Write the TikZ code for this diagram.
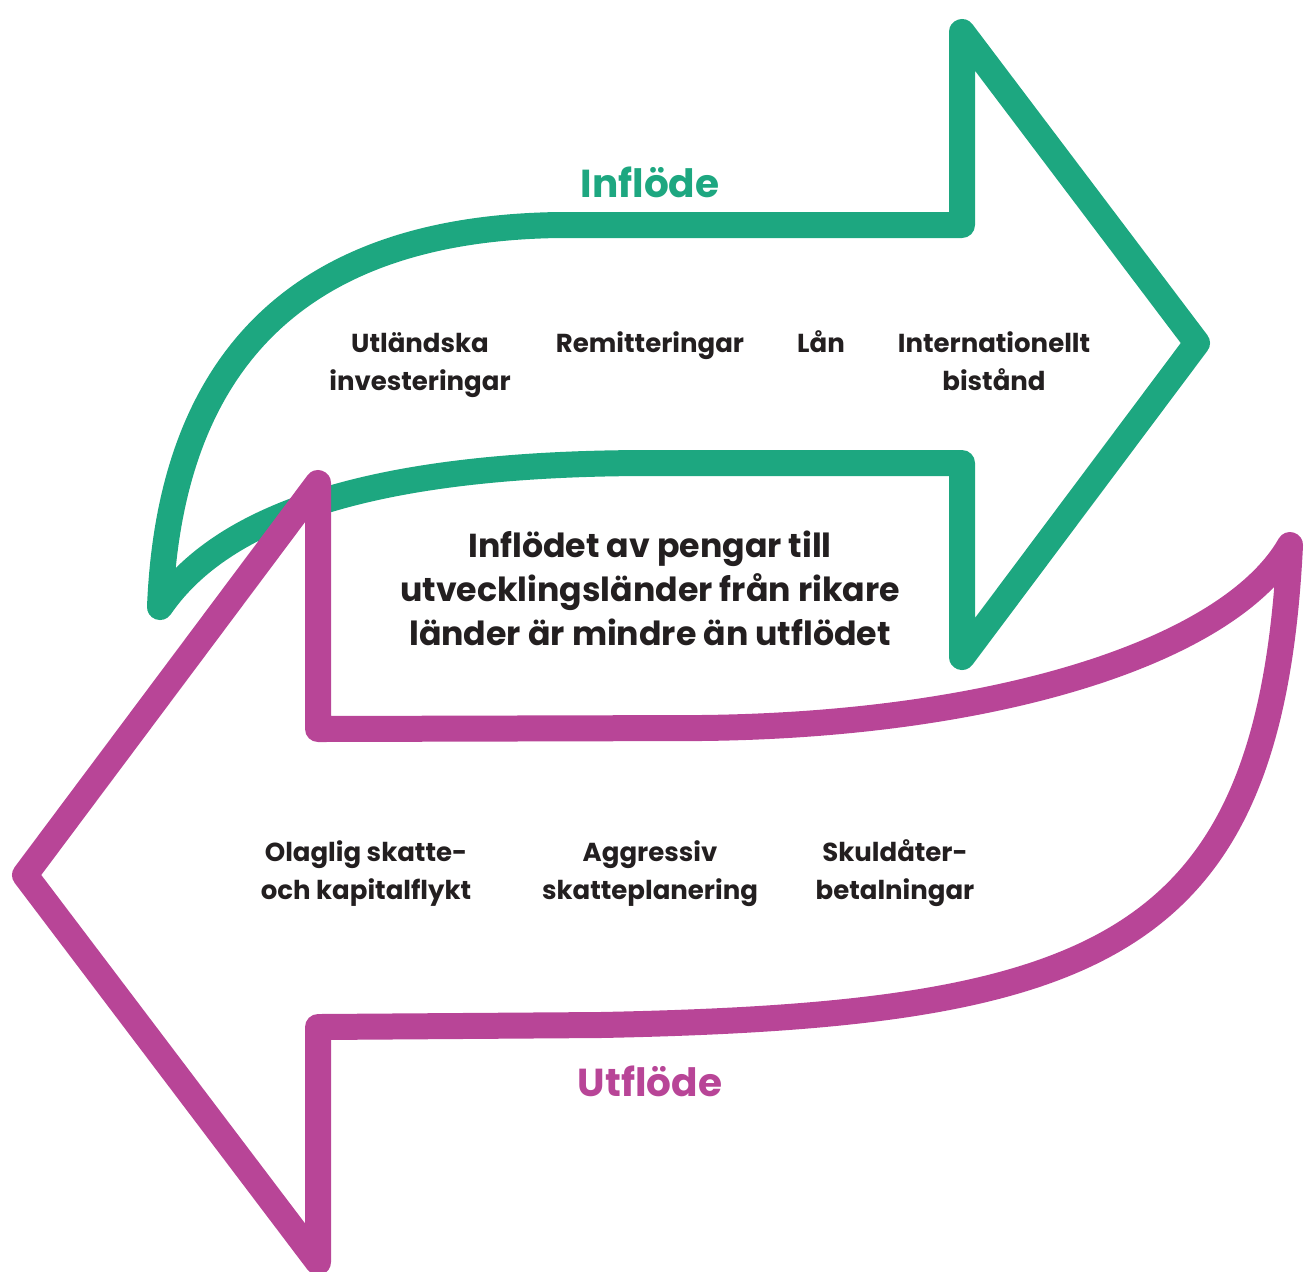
\documentclass[tikz,border=0pt]{standalone}
\usepackage{fontspec}
\setmainfont{Poppins}
\definecolor{infl}{RGB}{29,167,128}
\definecolor{utfl}{RGB}{184,69,151}
\definecolor{txt}{RGB}{35,31,32}
\begin{document}
\begin{tikzpicture}[x=0.5pt,y=-0.5pt,
  band/.style={line width=13pt, line join=round, line cap=round},
  lbl/.style={font=\bfseries\fontsize{13}{19}\selectfont, text=txt, align=center, inner sep=0pt, anchor=base},
  big/.style={font=\bfseries\fontsize{16.6}{22}\selectfont, text=txt, align=center, inner sep=0pt, anchor=base},
  ttl/.style={font=\bfseries\fontsize{19.5}{24}\selectfont, inner sep=0pt, anchor=base}]
\useasboundingbox (0,0) rectangle (1304,1271);
% inflow arrow
\draw[band, infl] (160,607) .. controls (170,360) and (300,228) .. (560,225)
  -- (962,225) -- (962,32) -- (1197,343) -- (962,657) -- (962,463) -- (650,463)
  .. controls (400,463) and (230,505) .. (160,607) -- cycle;
% outflow arrow
\draw[band, utfl] (1290,545) .. controls (1270,950) and (1100,1015) .. (600,1025)
  -- (318,1027) -- (318,1262) -- (25,875) -- (318,483) -- (318,729) -- (700,728)
  .. controls (1000,725) and (1230,650) .. (1290,545) -- cycle;
% titles
\node[ttl, text=infl] (tin) at (650,197) {Inflöde};
\node[ttl, text=utfl] (tut) at (650,1096) {Utflöde};
% inflow labels
\node[lbl] (l1) at (420,390) {Utländska\\investeringar};
\node[lbl] (l2) at (650,352) {Remitteringar};
\node[lbl] (l3) at (821,352) {Lån};
\node[lbl] (l4) at (994,390) {Internationellt\\bistånd};
% centre
\node[big] (c) at (650,645) {Inflödet av pengar till\\utvecklingsländer från rikare\\länder är mindre än utflödet};
% outflow labels
\node[lbl] (o1) at (366,899) {Olaglig skatte-\\och kapitalflykt};
\node[lbl] (o2) at (650,899) {Aggressiv\\skatteplanering};
\node[lbl] (o3) at (895,899) {Skuldåter-\\betalningar};
\end{tikzpicture}
\end{document}
